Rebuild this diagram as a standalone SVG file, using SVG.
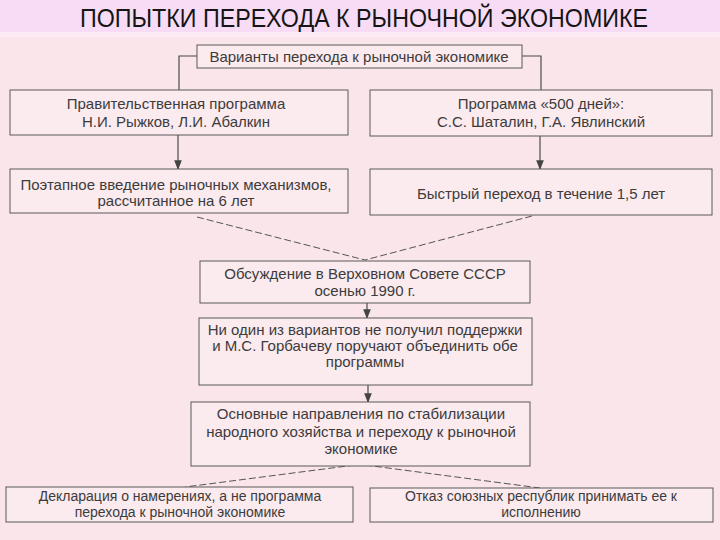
<svg xmlns="http://www.w3.org/2000/svg" width="720" height="540" viewBox="0 0 720 540">
<style>
.bx{fill:#fbeaee;stroke:#5a5a5a;stroke-width:1}
.t{font-family:"Liberation Sans",Arial,sans-serif;font-size:15px;fill:#3c3c3c;text-anchor:middle}
.s{font-size:14px}
.c{fill:none;stroke:#4a4a4a;stroke-width:1.2}
.d{fill:none;stroke:#555;stroke-width:1;stroke-dasharray:7 3}
</style>
<defs>
<marker id="ah" viewBox="0 0 10 10" refX="9" refY="5" markerWidth="8" markerHeight="8" orient="auto">
<path d="M0,1 L10,5 L0,9 Z" fill="#444"/>
</marker>
</defs>
<rect x="0" y="0" width="720" height="540" fill="#f9e5ea"/>
<rect x="0" y="0" width="720" height="32" fill="#f8dcf5"/>
<rect x="0" y="32" width="720" height="5" fill="#fcebf4"/>
<text x="80" y="27" font-family="'Liberation Sans',Arial,sans-serif" font-size="25" fill="#151515" textLength="568" lengthAdjust="spacingAndGlyphs">ПОПЫТКИ ПЕРЕХОДА К РЫНОЧНОЙ ЭКОНОМИКЕ</text>

<g id="connectors">
<polyline class="c" points="197,56 179,56 179,90"/>
<polyline class="c" points="522,56 541,56 541,90"/>
<line class="c" x1="178" y1="135" x2="178" y2="169" marker-end="url(#ah)"/>
<line class="c" x1="540" y1="136" x2="540" y2="169" marker-end="url(#ah)"/>
<line class="d" x1="197" y1="217" x2="365" y2="260"/>
<line class="d" x1="532" y1="216" x2="365" y2="260"/>
<line class="c" x1="367" y1="303" x2="367" y2="318" marker-end="url(#ah)"/>
<line class="c" x1="368" y1="385" x2="368" y2="402" marker-end="url(#ah)"/>
<line class="d" x1="355" y1="465" x2="185" y2="487"/>
<line class="d" x1="365" y1="465" x2="540" y2="488"/>
</g>

<g id="n-variants">
<rect class="bx" x="197" y="45" width="325" height="23"/>
<text class="t" x="359" y="62">Варианты перехода к рыночной экономике</text>
</g>
<g id="n-gov">
<rect class="bx" x="10" y="90" width="338" height="45"/>
<text class="t" x="176" y="109">Правительственная программа</text>
<text class="t" x="176" y="127">Н.И. Рыжков, Л.И. Абалкин</text>
</g>
<g id="n-500">
<rect class="bx" x="370" y="90" width="342" height="46"/>
<text class="t" x="541" y="109">Программа «500 дней»:</text>
<text class="t" x="541" y="127">С.С. Шаталин, Г.А. Явлинский</text>
</g>
<g id="n-stepwise">
<rect class="bx" x="10" y="169" width="338" height="44"/>
<text class="t" x="176" y="190">Поэтапное введение рыночных механизмов,</text>
<text class="t" x="176" y="206">рассчитанное на 6 лет</text>
</g>
<g id="n-fast">
<rect class="bx" x="370" y="169" width="342" height="46"/>
<text class="t" x="541" y="199">Быстрый переход в течение 1,5 лет</text>
</g>
<g id="n-discussion">
<rect class="bx" x="200" y="261" width="330" height="42"/>
<text class="t" x="365" y="279">Обсуждение в Верховном Совете СССР</text>
<text class="t" x="365" y="296">осенью 1990 г.</text>
</g>
<g id="n-none">
<rect class="bx" x="199" y="318" width="333" height="67"/>
<text class="t" x="365" y="335">Ни один из вариантов не получил поддержки</text>
<text class="t" x="365" y="351">и М.С. Горбачеву поручают объединить обе</text>
<text class="t" x="365" y="367">программы</text>
</g>
<g id="n-main">
<rect class="bx" x="191" y="402" width="339" height="64"/>
<text class="t" x="361" y="419">Основные направления по стабилизации</text>
<text class="t" x="361" y="437">народного хозяйства и переходу к рыночной</text>
<text class="t" x="361" y="454">экономике</text>
</g>
<g id="n-declaration">
<rect class="bx" x="6" y="487" width="347" height="35"/>
<text class="t s" x="180" y="501">Декларация о намерениях, а не программа</text>
<text class="t s" x="180" y="517">перехода к рыночной экономике</text>
</g>
<g id="n-refusal">
<rect class="bx" x="370" y="488" width="343" height="34"/>
<text class="t s" x="541" y="501">Отказ союзных республик принимать ее к</text>
<text class="t s" x="541" y="517">исполнению</text>
</g>
</svg>
